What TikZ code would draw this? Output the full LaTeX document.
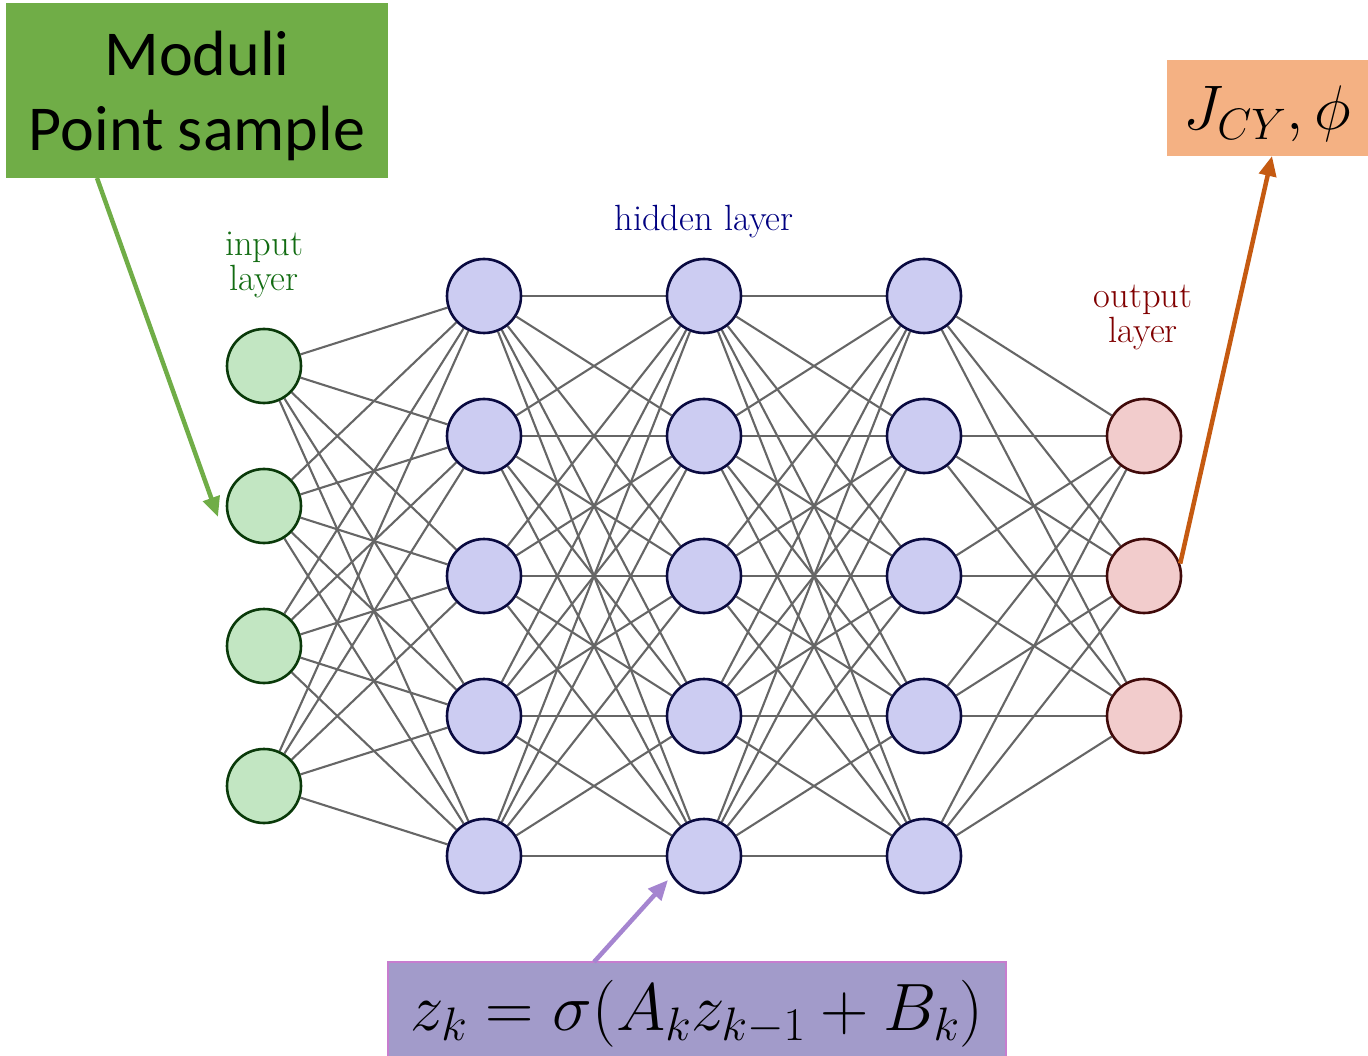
\documentclass[tikz,border=0pt]{standalone}
\usepackage{fix-cm}
\usepackage{fontspec}
\newfontfamily\carlito{Carlito}
\usetikzlibrary{arrows.meta,backgrounds}
\definecolor{boxgreen}{HTML}{70AD47}
\definecolor{boxorange}{HTML}{F4B183}
\definecolor{arrorange}{HTML}{C55A11}
\definecolor{boxpurple}{HTML}{A29BCA}
\definecolor{edgepurple}{HTML}{C77DCF}
\definecolor{arrpurple}{HTML}{A585D0}
\definecolor{infill}{HTML}{C2E6C2}
\definecolor{indraw}{HTML}{0A3A0A}
\definecolor{hidfill}{HTML}{CCCCF2}
\definecolor{hiddraw}{HTML}{0A0A40}
\definecolor{outfill}{HTML}{F2CCCC}
\definecolor{outdraw}{HTML}{400A0A}
\definecolor{edgegray}{HTML}{666666}
\definecolor{lblgreen}{HTML}{126C12}
\begin{document}
\begin{tikzpicture}[x=1pt,y=-1pt,
  neuron/.style={circle,minimum size=74pt,inner sep=0pt,line width=2.6pt},
  inp/.style={neuron,fill=infill,draw=indraw},
  hid/.style={neuron,fill=hidfill,draw=hiddraw},
  outn/.style={neuron,fill=outfill,draw=outdraw},
  edge/.style={draw=edgegray,line width=2.1pt},
  lbl/.style={font=\fontsize{36.5}{35}\selectfont,align=center,inner sep=0pt},
  bigarrow/.style={line width=4.5pt,-{Triangle[length=20pt,width=17pt]}}
]
\useasboundingbox (0,0) rectangle (1368,1056);

% neurons
\foreach \i/\y in {1/366,2/506,3/646,4/786}
  \node[inp] (I\i) at (264,\y) {};
\foreach \l/\x in {1/484,2/704,3/924}
  \foreach \j in {1,...,5}
    \node[hid] (H\l-\j) at (\x,{156+140*\j}) {};
\foreach \j in {1,2,3}
  \node[outn] (O\j) at (1144,{296+140*\j}) {};

% connections
\begin{scope}[on background layer]
  \foreach \i in {1,...,4}
    \foreach \j in {1,...,5}
      \draw[edge] (I\i) -- (H1-\j);
  \foreach \j in {1,...,5}
    \foreach \k in {1,...,5} {
      \draw[edge] (H1-\j) -- (H2-\k);
      \draw[edge] (H2-\j) -- (H3-\k);
    }
  \foreach \j in {1,...,5}
    \foreach \k in {1,2,3}
      \draw[edge] (H3-\j) -- (O\k);
\end{scope}

% layer labels
\node[lbl,text=lblgreen] (lin) at (264,265) {input\\layer};
\node[lbl,text=blue!50!black] (lhid) at (704,222) {hidden layer};
\node[lbl,text=red!50!black] (lout) at (1143,317) {output\\layer};

% boxes
\node[fill=boxgreen,minimum width=382pt,minimum height=175pt,inner sep=0pt]
      (mod) at (197,90.5) {};
\node[align=center,font=\carlito\fontsize{64}{75}\selectfont,inner sep=0pt]
      (modt) at (197,96) {Moduli\\Point sample};
\node[fill=boxorange,minimum width=201pt,minimum height=96pt,inner sep=0pt]
      (jcy) at (1267.5,108) {};
\node[font=\fontsize{63}{63}\selectfont,inner sep=0pt] (jcyt) at (1267,114)
      {$J_{CY},\phi$};
\node[fill=boxpurple,draw=edgepurple,line width=1.5pt,minimum width=618pt,
      minimum height=100pt,inner sep=0pt] (eq) at (697,1012) {};
\node[font=\fontsize{67}{67}\selectfont,inner sep=0pt] (eqt) at (697,1014)
      {$z_k=\sigma(A_k z_{k-1}+B_k)$};

% arrows
\coordinate (gs) at (97,178);
\coordinate (gt) at (218,517);
\draw[bigarrow,draw=boxgreen,fill=boxgreen] (gs) -- (gt);
\coordinate (ot) at (1272,156);
\draw[bigarrow,draw=arrorange,fill=arrorange] (O2.19) -- (ot);
\coordinate (ps) at (594,962);
\coordinate (pt) at (668,880);
\draw[bigarrow,draw=arrpurple,fill=arrpurple] (ps) -- (pt);
\end{tikzpicture}
\end{document}
